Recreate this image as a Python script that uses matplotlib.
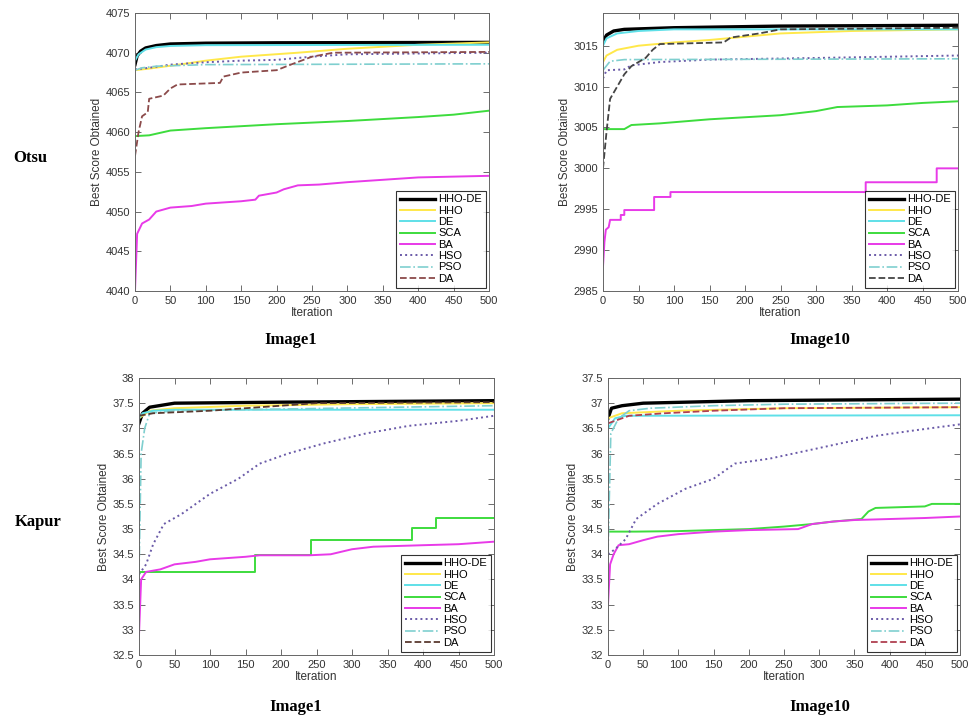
import matplotlib
matplotlib.use("Agg")
import matplotlib.pyplot as plt

# ---------------- data ----------------
labels = ["HHO-DE", "HHO", "DE", "SCA", "BA", "HSO", "PSO", "DA"]

# Otsu / Image1
o1_hhode_x = [0, 3, 8, 15, 30, 50, 100, 200, 500]
o1_hhode_y = [4068.5, 4069.6, 4070.2, 4070.6, 4070.9, 4071.1, 4071.2, 4071.25, 4071.3]
o1_hho_x = [0, 20, 70, 100, 150, 230, 300, 400, 500]
o1_hho_y = [4067.8, 4068.0, 4068.6, 4069.0, 4069.5, 4070.0, 4070.5, 4071.0, 4071.3]
o1_de_x = [0, 5, 15, 30, 50, 100, 500]
o1_de_y = [4069.0, 4069.8, 4070.4, 4070.7, 4070.85, 4070.95, 4071.0]
o1_sca_x = [0, 20, 50, 100, 200, 300, 400, 450, 500]
o1_sca_y = [4059.5, 4059.6, 4060.2, 4060.5, 4061.0, 4061.4, 4061.9, 4062.2, 4062.7]
o1_ba_x = [0, 3, 10, 20, 30, 50, 80, 100, 150, 170, 175, 200, 210, 230, 260, 300, 350, 400, 500]
o1_ba_y = [4040.0, 4047.2, 4048.5, 4049.0, 4050.0, 4050.5, 4050.7, 4051.0, 4051.3, 4051.5, 4052.0,
           4052.4, 4052.8, 4053.3, 4053.4, 4053.7, 4054.0, 4054.3, 4054.5]
o1_hso_x = [0, 20, 50, 100, 150, 200, 250, 300, 400, 500]
o1_hso_y = [4067.9, 4068.1, 4068.5, 4068.8, 4069.0, 4069.1, 4069.5, 4069.8, 4069.9, 4070.0]
o1_pso_x = [0, 10, 30, 100, 500]
o1_pso_y = [4067.8, 4068.1, 4068.3, 4068.5, 4068.6]
o1_da_x = [0, 5, 10, 18, 20, 40, 50, 60, 120, 125, 150, 200, 220, 250, 280, 500]
o1_da_y = [4057.0, 4060.0, 4062.0, 4062.5, 4064.2, 4064.6, 4065.5, 4066.0, 4066.2, 4067.0,
           4067.5, 4067.8, 4068.5, 4069.5, 4070.0, 4070.1]

# Otsu / Image10
o10_hhode_x = [0, 5, 15, 30, 100, 250, 500]
o10_hhode_y = [3015.5, 3016.3, 3016.8, 3017.0, 3017.2, 3017.4, 3017.5]
o10_hho_x = [0, 5, 20, 50, 100, 150, 200, 250, 350, 500]
o10_hho_y = [3013.0, 3013.8, 3014.5, 3015.0, 3015.4, 3015.7, 3016.1, 3016.5, 3016.8, 3017.0]
o10_de_x = [0, 5, 20, 50, 100, 500]
o10_de_y = [3015.0, 3015.9, 3016.5, 3016.8, 3017.0, 3017.0]
o10_sca_x = [0, 30, 40, 80, 150, 250, 300, 330, 400, 450, 500]
o10_sca_y = [3004.8, 3004.8, 3005.3, 3005.5, 3006.0, 3006.5, 3007.0, 3007.5, 3007.7, 3008.0, 3008.2]
o10_ba_x = [0, 2, 4, 8, 10, 25, 25, 30, 30, 72, 72, 95, 95, 370, 370, 470, 470, 500]
o10_ba_y = [2988.0, 2991.0, 2992.5, 2992.8, 2993.7, 2993.7, 2994.3, 2994.3, 2994.9, 2994.9,
            2996.5, 2996.5, 2997.1, 2997.1, 2998.3, 2998.3, 3000.0, 3000.0]
o10_hso_x = [0, 5, 30, 40, 80, 150, 300, 500]
o10_hso_y = [3011.0, 3012.0, 3012.1, 3012.6, 3013.0, 3013.3, 3013.5, 3013.8]
o10_pso_x = [0, 10, 30, 500]
o10_pso_y = [3012.0, 3013.1, 3013.3, 3013.4]
o10_da_x = [0, 5, 10, 20, 30, 40, 60, 70, 80, 170, 180, 220, 250, 500]
o10_da_y = [3000.0, 3004.5, 3008.5, 3010.0, 3011.5, 3012.5, 3013.5, 3014.5, 3015.2, 3015.4,
            3016.0, 3016.5, 3017.0, 3017.2]

# Kapur / Image1
k1_hhode_x = [0, 5, 15, 50, 200, 500]
k1_hhode_y = [37.1, 37.3, 37.42, 37.5, 37.52, 37.55]
k1_hho_x = [0, 15, 50, 150, 300, 500]
k1_hho_y = [37.2, 37.35, 37.4, 37.45, 37.48, 37.5]
k1_de_x = [0, 5, 20, 50, 500]
k1_de_y = [37.2, 37.3, 37.35, 37.37, 37.37]
k1_sca_x = [0, 163, 163, 242, 242, 385, 385, 418, 418, 500]
k1_sca_y = [34.15, 34.15, 34.48, 34.48, 34.78, 34.78, 35.02, 35.02, 35.22, 35.22]
k1_ba_x = [0, 3, 10, 30, 50, 80, 100, 150, 170, 240, 270, 300, 330, 400, 450, 500]
k1_ba_y = [32.9, 34.0, 34.15, 34.2, 34.3, 34.35, 34.4, 34.45, 34.48, 34.48, 34.5, 34.6,
           34.65, 34.68, 34.7, 34.75]
k1_hso_x = [0, 10, 20, 35, 60, 80, 100, 140, 170, 210, 260, 320, 380, 450, 500]
k1_hso_y = [34.1, 34.3, 34.7, 35.1, 35.3, 35.5, 35.7, 36.0, 36.3, 36.5, 36.7, 36.9,
            37.05, 37.15, 37.25]
k1_pso_x = [0, 3, 8, 15, 50, 500]
k1_pso_y = [34.1, 36.5, 37.0, 37.3, 37.35, 37.45]
k1_da_x = [0, 20, 100, 150, 200, 250, 500]
k1_da_y = [37.25, 37.3, 37.35, 37.4, 37.45, 37.5, 37.52]

# Kapur / Image10
k10_hhode_x = [0, 5, 20, 50, 200, 500]
k10_hhode_y = [36.7, 36.9, 36.95, 37.0, 37.05, 37.08]
k10_hho_x = [0, 20, 100, 250, 500]
k10_hho_y = [36.7, 36.8, 36.85, 36.9, 36.92]
k10_de_x = [0, 10, 25, 500]
k10_de_y = [36.5, 36.7, 36.75, 36.76]
k10_sca_x = [0, 40, 100, 200, 250, 290, 320, 360, 370, 380, 450, 460, 500]
k10_sca_y = [34.45, 34.45, 34.46, 34.5, 34.55, 34.6, 34.65, 34.7, 34.85, 34.92, 34.95, 35.0, 35.0]
k10_ba_x = [0, 3, 8, 15, 30, 50, 70, 100, 150, 200, 270, 290, 320, 350, 400, 450, 500]
k10_ba_y = [33.0, 33.8, 34.0, 34.18, 34.2, 34.28, 34.35, 34.4, 34.45, 34.48, 34.5, 34.6,
            34.65, 34.68, 34.7, 34.72, 34.75]
k10_hso_x = [0, 10, 25, 40, 70, 110, 150, 180, 230, 280, 330, 380, 430, 500]
k10_hso_y = [34.0, 34.1, 34.3, 34.7, 35.0, 35.3, 35.5, 35.8, 35.9, 36.05, 36.2, 36.35, 36.45, 36.58]
k10_pso_x = [0, 4, 15, 30, 60, 150, 250, 500]
k10_pso_y = [34.0, 36.4, 36.7, 36.85, 36.9, 36.95, 36.98, 37.0]
k10_da_x = [0, 30, 80, 150, 250, 500]
k10_da_y = [36.6, 36.75, 36.8, 36.85, 36.9, 36.92]

# ---------------- styling ----------------
colors = ["black", "#ffe84a", "#5fe0e8", "#3ddc3d", "#e83ae8", "#6a5aa8", "#7fcfcf", "#8b4040"]
styles = ["-", "-", "-", "-", "-", ":", "-.", "--"]
widths = [2.4, 1.4, 1.4, 1.4, 1.4, 1.4, 1.2, 1.3]

plt.rcParams["font.family"] = ["Liberation Sans", "DejaVu Sans"]

fig = plt.figure(figsize=(9.68, 7.18), dpi=100)
W, H = 968.0, 718.0


def make_axes(l, t, r, b):
    return fig.add_axes([l / W, 1 - b / H, (r - l) / W, (b - t) / H])


def draw_panel(ax, series, ylim, yticks, da_color):
    for i, (xs, ys) in enumerate(series):
        c = da_color if labels[i] == "DA" else colors[i]
        ax.plot(xs, ys, color=c, ls=styles[i], lw=widths[i], label=labels[i])
    ax.set_xlim(0, 500)
    ax.set_ylim(*ylim)
    ax.set_xticks(range(0, 501, 50))
    ax.set_yticks(yticks)
    ax.tick_params(direction="in", top=True, right=True, length=4, labelsize=8,
                   colors="#555555", labelcolor="#333333", width=0.6)
    for s in ax.spines.values():
        s.set_color("#666666")
        s.set_linewidth(0.7)
    ax.set_xlabel("Iteration", fontsize=8.5, color="#333333", labelpad=1)
    ax.set_ylabel("Best Score Obtained", fontsize=8.5, color="#333333", labelpad=2)
    leg = ax.legend(loc="lower right", fontsize=8, handlelength=3.1, labelspacing=0.12,
                    handletextpad=0.3, borderpad=0.35, borderaxespad=0.3, fancybox=False)
    leg.get_frame().set_edgecolor("black")
    leg.get_frame().set_linewidth(0.8)


ax1 = make_axes(135, 13, 489, 291)
draw_panel(ax1, [(o1_hhode_x, o1_hhode_y), (o1_hho_x, o1_hho_y), (o1_de_x, o1_de_y),
                 (o1_sca_x, o1_sca_y), (o1_ba_x, o1_ba_y), (o1_hso_x, o1_hso_y),
                 (o1_pso_x, o1_pso_y), (o1_da_x, o1_da_y)],
           (4040, 4075), range(4040, 4076, 5), "#8b4a4a")

ax2 = make_axes(603, 13, 958, 291)
draw_panel(ax2, [(o10_hhode_x, o10_hhode_y), (o10_hho_x, o10_hho_y), (o10_de_x, o10_de_y),
                 (o10_sca_x, o10_sca_y), (o10_ba_x, o10_ba_y), (o10_hso_x, o10_hso_y),
                 (o10_pso_x, o10_pso_y), (o10_da_x, o10_da_y)],
           (2985, 3019), range(2985, 3016, 5), "#444444")

ax3 = make_axes(139, 378, 494, 655)
draw_panel(ax3, [(k1_hhode_x, k1_hhode_y), (k1_hho_x, k1_hho_y), (k1_de_x, k1_de_y),
                 (k1_sca_x, k1_sca_y), (k1_ba_x, k1_ba_y), (k1_hso_x, k1_hso_y),
                 (k1_pso_x, k1_pso_y), (k1_da_x, k1_da_y)],
           (32.5, 38), [32.5 + 0.5 * i for i in range(12)], "#5a3a30")
ax3.set_yticklabels(["32.5", "33", "33.5", "34", "34.5", "35", "35.5", "36",
                     "36.5", "37", "37.5", "38"])

ax4 = make_axes(608, 378, 960, 655)
draw_panel(ax4, [(k10_hhode_x, k10_hhode_y), (k10_hho_x, k10_hho_y), (k10_de_x, k10_de_y),
                 (k10_sca_x, k10_sca_y), (k10_ba_x, k10_ba_y), (k10_hso_x, k10_hso_y),
                 (k10_pso_x, k10_pso_y), (k10_da_x, k10_da_y)],
           (32, 37.5), [32 + 0.5 * i for i in range(12)], "#b04050")
ax4.set_yticklabels(["32", "32.5", "33", "33.5", "34", "34.5", "35", "35.5",
                     "36", "36.5", "37", "37.5"])

# row / column captions
serif = ["Liberation Serif", "DejaVu Serif"]
fig.text(30 / W, 1 - 158 / H, "Otsu", family=serif, weight="bold", fontsize=12,
         ha="center", va="center")
fig.text(38 / W, 1 - 522 / H, "Kapur", family=serif, weight="bold", fontsize=12,
         ha="center", va="center")
for x, y, t in [(291, 340, "Image1"), (820, 340, "Image10"),
                (296, 707, "Image1"), (820, 707, "Image10")]:
    fig.text(x / W, 1 - y / H, t, family=serif, weight="bold", fontsize=12,
             ha="center", va="center")

fig.savefig("out.png", dpi=100)
